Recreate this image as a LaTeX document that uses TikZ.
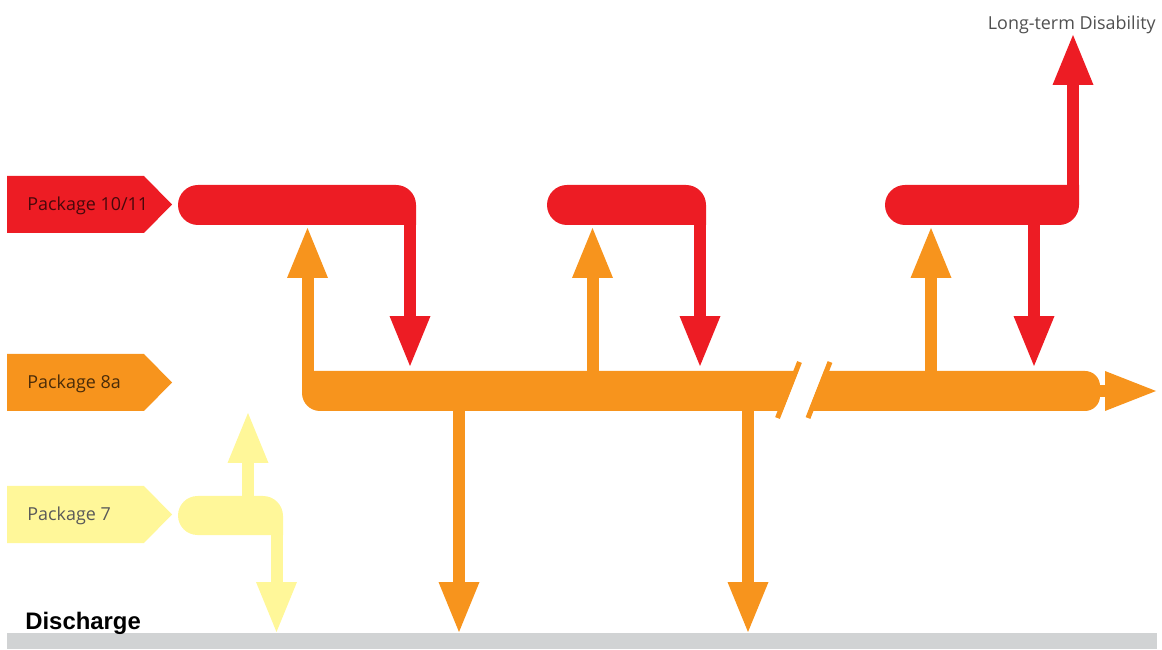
\documentclass[tikz,border=0pt]{standalone}
\usepackage{fontspec}
\setmainfont{Open Sans}
\newfontfamily\headfont{Liberation Sans}
\usetikzlibrary{arrows.meta}
\definecolor{pkred}{HTML}{ED1C24}
\definecolor{pkorange}{HTML}{F7941D}
\definecolor{pkyellow}{HTML}{FFF799}
\definecolor{floorgrey}{HTML}{D1D3D4}
\definecolor{labelgrey}{HTML}{505050}
\newcommand{\pkgtag}[5]{%
  \fill[#3] (7,#2+28.5) -- (144,#2+28.5) -- (172,#2) -- (144,#2-28.5) -- (7,#2-28.5) -- cycle;
  \node[anchor=base west, text=#4, inner sep=0pt] (#1) at (27,#2-6) {#5};}

\begin{document}
\begin{tikzpicture}[x=0.02cm, y=0.02cm, font=\fontsize{10.2}{12}\selectfont,
    shaft/.style={line width=0.24cm, -{Triangle[length=1cm, width=0.82cm, line width=0pt]}},
    wideshaft/.style={line width=0.24cm, -{Triangle[length=1.02cm, width=0.8cm, line width=0pt]}}]
  \useasboundingbox (0,0) rectangle (1162,649);
  \fill[floorgrey] (7,0) rectangle (1157,16);
  \node[anchor=base west, inner sep=0pt, font=\headfont\bfseries\fontsize{13.6}{15}\selectfont] (discharge) at (25,20) {Discharge};
  \node[anchor=base east, inner sep=0pt, text=labelgrey] (ltd) at (1156,619.5) {Long-term Disability};

  \pkgtag{p1011}{444.5}{pkred}{pkred!30!black}{Package 10/11}
  \pkgtag{p8a}{266.5}{pkorange}{pkorange!30!black}{Package 8a}
  \pkgtag{p7}{134.5}{pkyellow}{black!65}{Package 7}

  % main orange stream with its break
  \fill[pkorange] (302,278) -- (302,256) arc[start angle=180, end angle=270, radius=18]
    -- (1085,238) arc[start angle=-90, end angle=0, radius=15] -- (1100,263)
    arc[start angle=0, end angle=90, radius=15] -- cycle;
  \fill[white] (780,231) -- (802,287) -- (827.5,287) -- (805.5,231) -- cycle;
  \draw[pkorange, line width=0.1cm] (799.5,287) -- (777.5,231);
  \draw[pkorange, line width=0.1cm] (830,287) -- (808,231);
  \coordinate (o0) at (1090,258);
  \coordinate (out) at (1156,258);
  \draw[pkorange, wideshaft] (o0) -- (out);

  % red streams
  \fill[pkred] (198,424) arc[start angle=270, end angle=90, radius=20] -- (396,464)
    arc[start angle=90, end angle=0, radius=20] -- (416,424) -- cycle;
  \fill[pkred] (567,424) arc[start angle=270, end angle=90, radius=20] -- (686,464)
    arc[start angle=90, end angle=0, radius=20] -- (706,424) -- cycle;
  \fill[pkred] (905,424) arc[start angle=270, end angle=90, radius=20] -- (1079,464)
    -- (1079,444) arc[start angle=0, end angle=-90, radius=20] -- cycle;

  % yellow stream
  \fill[pkyellow] (197.5,114) arc[start angle=270, end angle=90, radius=19.5] -- (263,153)
    arc[start angle=90, end angle=0, radius=20] -- (283,114) -- cycle;

  \coordinate (r1) at (410,440);
  \coordinate (r1d) at (410,283);
  \coordinate (r2) at (700,440);
  \coordinate (r2d) at (700,283);
  \coordinate (r3) at (1034,440);
  \coordinate (r3d) at (1034,283);
  \coordinate (r3t) at (1073,450);
  \coordinate (r3u) at (1073,614);
  \draw[pkred, shaft] (r1) -- (r1d);
  \draw[pkred, shaft] (r2) -- (r2d);
  \draw[pkred, shaft] (r3) -- (r3d);
  \draw[pkred, shaft] (r3t) -- (r3u);

  \coordinate (o1) at (307.5,265);
  \coordinate (o1u) at (307.5,421);
  \coordinate (o2) at (592.5,265);
  \coordinate (o2u) at (592.5,421);
  \coordinate (o3) at (931,265);
  \coordinate (o3u) at (931,421);
  \coordinate (o4) at (459,250);
  \coordinate (o4d) at (459,17);
  \coordinate (o5) at (748,250);
  \coordinate (o5d) at (748,17);
  \draw[pkorange, shaft] (o1) -- (o1u);
  \draw[pkorange, shaft] (o2) -- (o2u);
  \draw[pkorange, shaft] (o3) -- (o3u);
  \draw[pkorange, shaft] (o4) -- (o4d);
  \draw[pkorange, shaft] (o5) -- (o5d);

  \coordinate (y1) at (248,145);
  \coordinate (y1u) at (248,236);
  \coordinate (y2) at (276.5,125);
  \coordinate (y2d) at (276.5,17);
  \draw[pkyellow, shaft] (y1) -- (y1u);
  \draw[pkyellow, shaft] (y2) -- (y2d);
\end{tikzpicture}
\end{document}
